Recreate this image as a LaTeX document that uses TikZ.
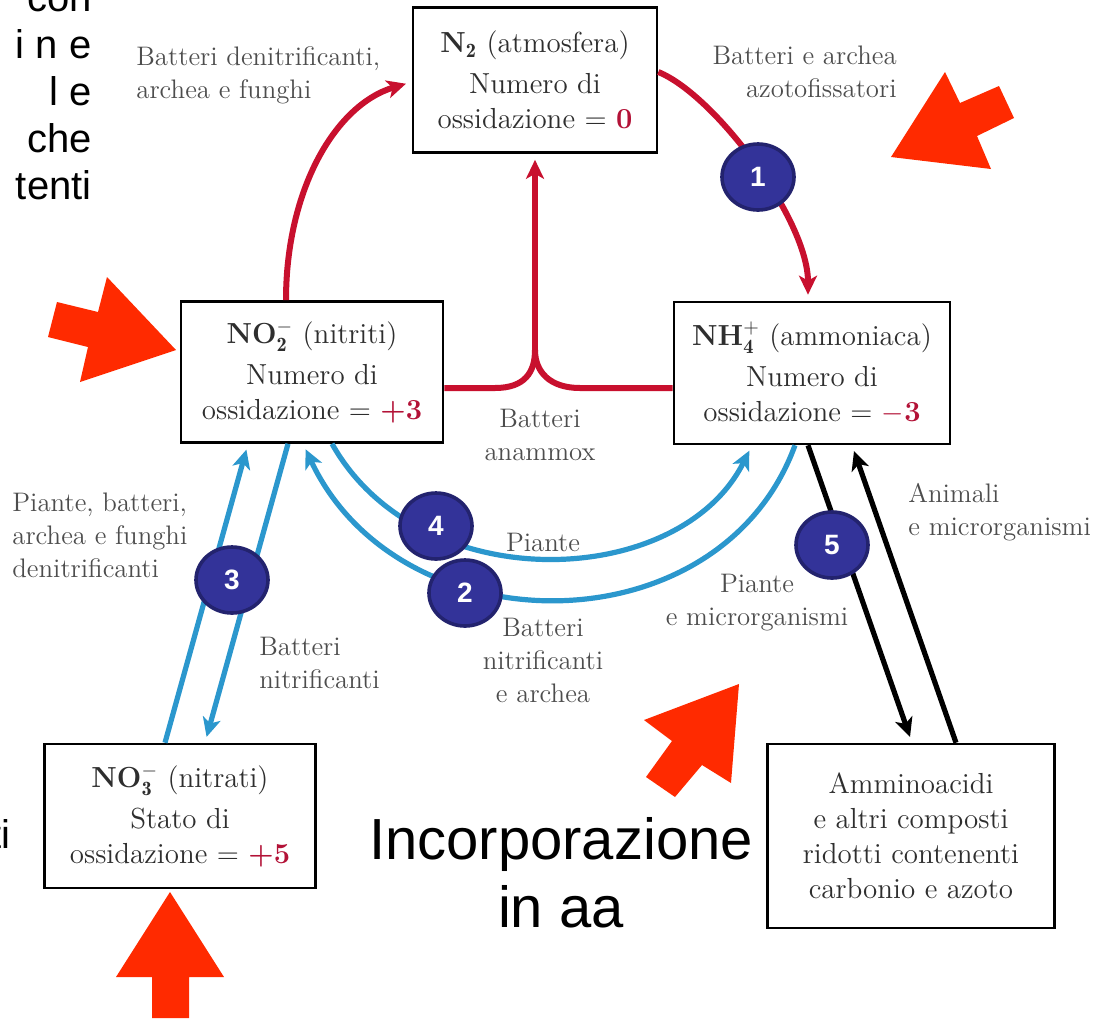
\documentclass[tikz,border=0pt]{standalone}
\usepackage{amsmath}
\usepackage{fontspec}
\usetikzlibrary{shapes.geometric,arrows.meta}
\newfontfamily\arial{Liberation Sans}
\definecolor{rosso}{HTML}{C8102E}
\definecolor{valore}{HTML}{B31237}
\definecolor{celeste}{HTML}{2B97CD}
\definecolor{blu}{HTML}{333399}
\definecolor{blubordo}{HTML}{23236E}
\definecolor{arancio}{HTML}{FF2A00}
\definecolor{testo}{HTML}{2E2E2E}
\definecolor{grigio}{HTML}{4D4D4D}
\newcommand{\ox}[1]{\textcolor{valore}{\textbf{#1}}}

\begin{document}
\begin{tikzpicture}[%
    x=0.5pt, y=-0.5pt,
    >={Stealth[length=9.5pt,width=9pt,inset=2.5pt]},
    box/.style={draw, line width=1.3pt, fill=white, align=center, text=testo,
                font=\fontsize{14.5}{17.5}\selectfont, inner sep=0pt},
    nota/.style={text=grigio, font=\fontsize{13.4}{16.5}\selectfont, inner sep=0pt},
    rossa/.style={draw=rosso, line width=3pt},
    azzurra/.style={draw=celeste, line width=2.6pt},
    nera/.style={draw=black, line width=2.6pt},
    punta/.style={->, shorten >=3pt},
    tappa/.style={ellipse, fill=blu, draw=blubordo, line width=1.8pt, text=white,
                  font=\arial\bfseries\fontsize{14}{14}\selectfont,
                  minimum width=36pt, minimum height=33pt, inner sep=0pt},
    freccia/.style={fill=arancio},
    grande/.style={font=\arial\fontsize{29}{34}\selectfont, align=center, inner sep=0pt},
    margine/.style={font=\arial\fontsize{20}{23.5}\selectfont, inner sep=0pt}
    ]
    \useasboundingbox[fill=white] (0,0) rectangle (1097,1018);

    \node[box, minimum width=122pt, minimum height=72.5pt] (n2) at (535,80)
        {\textbf{N$_{\mathbf 2}$} (atmosfera)\\[3pt] Numero di\\ ossidazione = \ox{0}};
    \node[box, minimum width=131pt, minimum height=70.5pt] (no2) at (312,372)
        {\textbf{NO$_{\mathbf 2}^{\mathbf -}$} (nitriti)\\[3pt] Numero di\\ ossidazione = \ox{+3}};
    \node[box, minimum width=138pt, minimum height=71pt] (nh4) at (812,373)
        {\textbf{NH$_{\mathbf 4}^{\mathbf +}$} (ammoniaca)\\[3pt] Numero di\\ ossidazione = \ox{$-$3}};
    \node[box, minimum width=135.5pt, minimum height=72pt] (no3) at (180,816)
        {\textbf{NO$_{\mathbf 3}^{\mathbf -}$} (nitrati)\\[3pt] Stato di\\ ossidazione = \ox{+5}};
    \node[box, minimum width=143.5pt, minimum height=92pt] (aa) at (911,836)
        {Amminoacidi\\ e altri composti\\ ridotti contenenti\\ carbonio e azoto};

    \draw[rossa,punta] (286,0 |- no2.north) .. controls (286,190) and (335,105) .. (n2.west |- 0,82);
    \draw[rossa,punta] (n2.east |- 0,72) .. controls (715,95) and (808,220) .. (808,0 |- nh4.north);
    \coordinate (bivio) at (n2.south |- 0,350);
    \draw[rossa] (no2.east |- 0,388) -- (495,388) .. controls (525,388) and (bivio |- 0,372) .. (bivio);
    \draw[rossa] (nh4.west |- 0,388) -- (580,388) .. controls (550,388) and (bivio |- 0,372) .. (bivio);
    \draw[rossa,punta] (bivio) -- (n2.south);

    \draw[azzurra,punta] (165,0 |- no3.north) -- (248,0 |- no2.south);
    \draw[azzurra,punta] (288,0 |- no2.south) -- (205,0 |- no3.north);
    \draw[azzurra,punta] (332,0 |- no2.south) .. controls (420,600) and (680,590) .. (752,0 |- nh4.south);
    \draw[azzurra,punta] (795,0 |- nh4.south) .. controls (720,650) and (400,650) .. (303,0 |- no2.south);

    \draw[nera,punta] (808,0 |- nh4.south) -- (912,0 |- aa.north);
    \draw[nera,punta] (956,0 |- aa.north) -- (852,0 |- nh4.south);

    \node[tappa] (t1) at (758,177) {1};
    \node[tappa] (t2) at (465,593) {2};
    \node[tappa] (t3) at (232,580) {3};
    \node[tappa] (t4) at (436,526) {4};
    \node[tappa] (t5) at (832,545) {5};

    \node[nota, anchor=west, align=left] (lden) at (136,75) {Batteri denitrificanti,\\archea e funghi};
    \node[nota, anchor=east, align=right] (lfix) at (897,72) {Batteri e archea\\azotofissatori};
    \node[nota, align=center] (lanx) at (540,435) {Batteri\\anammox};
    \node[nota, anchor=west, align=left] (lpbf) at (12,535) {Piante, batteri,\\archea e funghi\\denitrificanti};
    \node[nota, anchor=west, align=left] (lnit) at (259,663) {Batteri\\nitrificanti};
    \node[nota] (lpia) at (543,542) {Piante};
    \node[nota, align=center] (lnar) at (543,660) {Batteri\\nitrificanti\\e archea};
    \node[nota, align=center] (lpmi) at (757,603) {Piante\\e microrganismi};
    \node[nota, anchor=west, align=left] (lani) at (908,512) {Animali\\e microrganismi};

    \node[grande] (incorp) at (561,873) {Incorporazione\\in aa};
    \node[margine, anchor=base east, align=right] (marg) at (92,199) {con\\i n e\\l e\\che\\tenti};
    \node[margine, anchor=base east] (margb) at (11,848) {ti};

    \fill[freccia] (891,157) -- (945,72) -- (960,103) -- (999,86) -- (1014,118) -- (977,136) -- (991,169) -- cycle;
    \fill[freccia] (176,350) -- (107,277) -- (98,312) -- (57,302) -- (48,337) -- (88,347) -- (80,382) -- cycle;
    \fill[freccia] (170,892) -- (224,977) -- (189,977) -- (189,1018) -- (152,1018) -- (152,977) -- (116,977) -- cycle;
    \fill[freccia] (739,684) -- (731,783) -- (702,765) -- (675,797) -- (646,777) -- (672,741) -- (644,720) -- cycle;

\end{tikzpicture}
\end{document}
